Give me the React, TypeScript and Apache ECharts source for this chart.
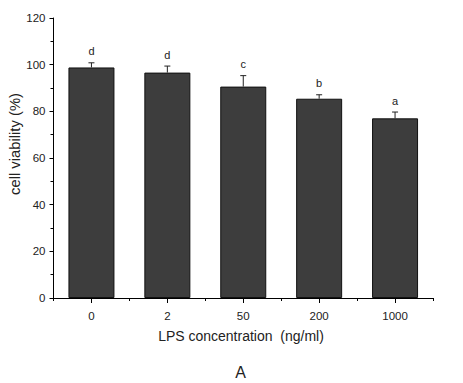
import React, { useEffect, useRef } from "react";
import * as echarts from "echarts";

const categories = ["0", "2", "50", "200", "1000"];
const viability = [98.8, 96.6, 90.6, 85.4, 77.0];
const errors = [2.0, 2.8, 4.7, 1.7, 2.7];
const letters = ["d", "d", "c", "b", "a"];

const FONT = "'Liberation Sans', Arial, sans-serif";

export default function App() {
  const ref = useRef<HTMLDivElement>(null);
  useEffect(() => {
    if (!ref.current) return;
    const chart = echarts.init(ref.current, undefined, { renderer: "svg" });
    const errData = categories.map((_, i) => [i, viability[i], errors[i]]);
    chart.setOption({
      animation: false,
      backgroundColor: "#ffffff",
      grid: { left: 53.5, right: 30, top: 18, bottom: 85, containLabel: false },
      xAxis: [
        {
          type: "category",
          data: categories,
          axisLine: { lineStyle: { color: "#000", width: 1 } },
          axisTick: { show: true, length: 3, lineStyle: { color: "#000" } },
          axisLabel: { fontFamily: FONT, fontSize: 11.5, color: "#222", margin: 12 },
        },
        {
          type: "category",
          data: categories,
          position: "bottom",
          axisLine: { show: false },
          axisTick: { show: true, alignWithLabel: true, length: 5, lineStyle: { color: "#000" } },
          axisLabel: { show: false },
        },
      ],
      yAxis: {
        type: "value",
        min: 0,
        max: 120,
        interval: 20,
        axisLine: { show: true, lineStyle: { color: "#000", width: 1 } },
        axisTick: { show: true, length: 4, lineStyle: { color: "#000" } },
        minorTick: { show: true, splitNumber: 2, length: 3, lineStyle: { color: "#000" } },
        splitLine: { show: false },
        axisLabel: { fontFamily: FONT, fontSize: 11.5, color: "#222", margin: 8 },
      },
      graphic: [
        {
          type: "text",
          x: 15,
          y: 144,
          rotation: Math.PI / 2,
          style: {
            text: "cell viability (%)",
            fontFamily: FONT,
            fontSize: 14.8,
            fill: "#222",
            align: "center",
            verticalAlign: "middle",
          },
        },
        {
          type: "text",
          x: 241,
          y: 336,
          style: {
            text: "LPS concentration  (ng/ml)",
            fontFamily: FONT,
            fontSize: 14,
            fill: "#222",
            align: "center",
            verticalAlign: "middle",
          },
        },
        {
          type: "text",
          x: 240.5,
          y: 364,
          style: {
            text: "A",
            fontFamily: FONT,
            fontSize: 16,
            fill: "#222",
            align: "center",
            verticalAlign: "top",
          },
        },
      ],
      series: [
        {
          type: "bar",
          data: viability,
          barWidth: 46,
          itemStyle: { color: "#3d3d3d", borderColor: "#111", borderWidth: 1 },
          z: 2,
        },
        {
          type: "custom",
          data: errData,
          z: 3,
          renderItem: (params: any, api: any) => {
            const i = api.value(0);
            const v = api.value(1);
            const e = api.value(2);
            const top = api.coord([i, v + e]);
            const base = api.coord([i, v]);
            const letter = letters[params.dataIndex];
            return {
              type: "group",
              children: [
                {
                  type: "line",
                  shape: { x1: top[0], y1: top[1], x2: base[0], y2: base[1] },
                  style: { stroke: "#222", lineWidth: 1 },
                },
                {
                  type: "line",
                  shape: { x1: top[0] - 3, y1: top[1], x2: top[0] + 3, y2: top[1] },
                  style: { stroke: "#222", lineWidth: 1 },
                },
                {
                  type: "text",
                  x: top[0],
                  y: top[1] - 6,
                  style: {
                    text: letter,
                    fontFamily: FONT,
                    fontSize: 11,
                    fill: "#222",
                    align: "center",
                    verticalAlign: "bottom",
                  },
                },
              ],
            };
          },
        },
      ],
    });
    return () => chart.dispose();
  }, []);
  return (
    <div
      ref={ref}
      style={{ position: "absolute", left: 0, top: 0, width: 463, height: 383 }}
    />
  );
}
